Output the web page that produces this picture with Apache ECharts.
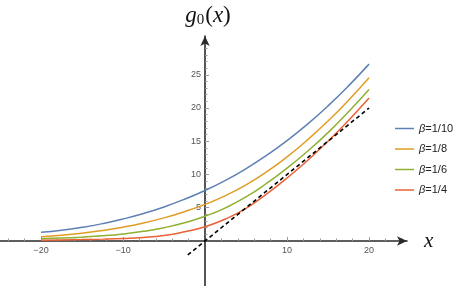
<!DOCTYPE html>
<html><head><meta charset="utf-8">
<script src="https://cdn.jsdelivr.net/npm/echarts@6/dist/echarts.min.js"></script>
<style>html,body{margin:0;padding:0;background:#fff}#c{width:454px;height:286px}</style>
</head><body><div id="c"></div>
<script>
// ---- data ----
const xValues = [-20,-17.5,-15,-12.5,-10,-7.5,-5,-2.5,0,2.5,5,7.5,10,12.5,15,17.5,20];
const beta10 = [1.3,1.61,2.05,2.61,3.30,4.13,5.12,6.28,7.60,9.12,10.88,12.87,15.10,17.58,20.32,23.33,26.6];
const beta8  = [0.65,0.87,1.18,1.58,2.08,2.70,3.48,4.41,5.50,6.83,8.45,10.39,12.65,15.21,18.05,21.16,24.55];
const beta6  = [0.35,0.44,0.58,0.77,1.05,1.45,2.00,2.74,3.72,4.99,6.62,8.65,10.95,13.5,16.3,19.45,22.8];
const beta4  = [0.12,0.16,0.21,0.28,0.38,0.53,0.82,1.38,2.15,3.3,4.9,7.06,9.47,12.11,15.0,18.13,21.5];
const asymX = [-2.1, 20];
const asymY = [-2.1, 20];
const seriesNames = ['β=1/10','β=1/8','β=1/6','β=1/4'];
const xTickLabels = [-20,-10,10,20];
const yTickLabels = [5,10,15,20,25];
const xMinorTicks = [-24,-22,-18,-16,-14,-12,-8,-6,-4,-2,2,4,6,8,12,14,16,18,22,24];
const yMinorTicks = [1,2,3,4,6,7,8,9,11,12,13,14,16,17,18,19,21,22,23,24,26,27,28,29];

const colors = ['#5E81B5','#E19C24','#8FB032','#EB6235'];
const curves = [beta10, beta8, beta6, beta4];

const X_MIN = -25.0, X_MAX = 24.63, Y_MIN = -6.77, Y_MAX = 30.83;
const axisColor = '#2a2a2a';
const tickColor = '#9a9a9a';
const labelStyle = {color:'#555', fontSize:9, fontFamily:'Liberation Sans, Arial, sans-serif'};
const serif = 'Liberation Serif, Times New Roman, serif';

function zip(xs, ys){ return xs.map((x,i)=>[x, ys[i]]); }

const series = curves.map((ys,i)=>({
  name: seriesNames[i], type:'line', data: zip(xValues, ys),
  smooth: true, showSymbol:false, symbol:'none',
  lineStyle:{color:colors[i], width:1.5}, itemStyle:{color:colors[i]},
  z: 3
}));
series.push({
  name:'asym', type:'line', data: zip(asymX, asymY), showSymbol:false, symbol:'none',
  lineStyle:{color:'#000', width:1.6, type:[4,3]}, z: 4
});

const hidden = {axisLine:{show:false}, axisTick:{show:false}, axisLabel:{show:false}, splitLine:{show:false}};

const chart = echarts.init(document.getElementById('c'), null, {renderer:'canvas'});
chart.setOption({
  animation:false,
  backgroundColor:'#fff',
  grid:[
    {left:0, right:47, top:36, bottom:0, containLabel:false, outerBoundsMode:'none'},
    // grid whose bottom edge sits on y = 0: carries x tick labels + major ticks
    {left:0, right:47, top:36, bottom:45, containLabel:false, outerBoundsMode:'none'},
    // grid whose left edge sits on x = 0: carries y tick labels + major ticks
    {left:205, right:47, top:36, bottom:0, containLabel:false, outerBoundsMode:'none'}
  ],
  legend:{
    data: seriesNames, orient:'vertical', left:390, top:118,
    icon:'path://M0,0 H38 V3 H0 Z', itemWidth:19, itemHeight:1.5, itemGap:9.5,
    formatter: n => n.replace('β','{i|β}'),
    textStyle:{color:'#222', fontSize:11, fontFamily:'Liberation Sans, Arial, sans-serif',
      rich:{i:{fontStyle:'italic', fontSize:11, fontFamily:'Liberation Sans, Arial, sans-serif', color:'#222'}}}
  },
  xAxis:[{
    gridIndex:0, type:'value', min:X_MIN, max:X_MAX,
    name:'x', nameLocation:'end', nameGap:17,
    nameTextStyle:{fontFamily:serif, fontStyle:'italic', fontSize:21, color:'#111'},
    axisLine:{show:true, onZero:true, symbol:['none','arrow'], symbolSize:[7,10], lineStyle:{color:axisColor, width:1.6}},
    axisTick:{show:true, inside:true, length:2.5, customValues:xMinorTicks, lineStyle:{color:tickColor, width:1}},
    axisLabel:{show:false}, splitLine:{show:false}
  },{
    gridIndex:1, type:'value', min:X_MIN, max:X_MAX, position:'bottom',
    axisLine:{show:false, onZero:false},
    axisTick:{show:true, inside:true, length:4, customValues:xTickLabels, lineStyle:{color:tickColor, width:1}},
    axisLabel:{show:true, customValues:xTickLabels, margin:5, formatter:v=> v<0 ? '\u2212'+Math.abs(v) : String(v), ...labelStyle},
    splitLine:{show:false}
  },{
    gridIndex:2, type:'value', min:0, max:X_MAX, ...hidden
  }],
  yAxis:[{
    gridIndex:0, type:'value', min:Y_MIN, max:Y_MAX,
    name:'{g|g}{s|0}{p|(}{g|x}{p|)}', nameLocation:'end', nameGap:8,
    nameTextStyle:{align:'center', verticalAlign:'bottom', padding:[0,0,0,6],
      rich:{
        g:{fontFamily:serif, fontStyle:'italic', fontSize:23, color:'#111'},
        s:{fontFamily:serif, fontSize:15, color:'#111', padding:[10,1,0,0]},
        p:{fontFamily:serif, fontSize:23, color:'#111'}
      }},
    axisLine:{show:true, onZero:true, symbol:['none','arrow'], symbolSize:[7,10], lineStyle:{color:axisColor, width:1.6}},
    axisTick:{show:true, inside:true, length:2.5, customValues:yMinorTicks, lineStyle:{color:tickColor, width:1}},
    axisLabel:{show:false}, splitLine:{show:false}
  },{
    gridIndex:1, type:'value', min:0, max:Y_MAX, ...hidden
  },{
    gridIndex:2, type:'value', min:Y_MIN, max:Y_MAX, position:'left',
    axisLine:{show:false, onZero:false},
    axisTick:{show:true, inside:true, length:4, customValues:yTickLabels, lineStyle:{color:tickColor, width:1}},
    axisLabel:{show:true, customValues:yTickLabels, margin:4, ...labelStyle},
    splitLine:{show:false}
  }],
  series: series
});
</script></body></html>
